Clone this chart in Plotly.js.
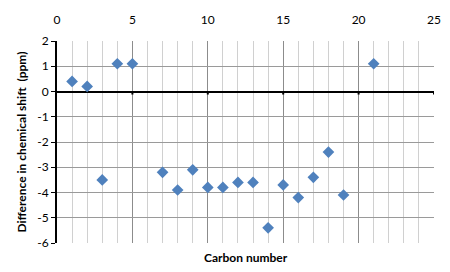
<!DOCTYPE html>
<html>
<head>
<meta charset="utf-8">
<script src="https://cdn.plot.ly/plotly-3.0.1.min.js"></script>
<style>html,body{margin:0;padding:0;background:#fff;}#chart{width:450px;height:272px;}</style>
</head>
<body>
<div id="chart"></div>
<script>
const carbonNumber = [1, 2, 3, 4, 5, 7, 8, 9, 10, 11, 12, 13, 14, 15, 16, 17, 18, 19, 21];
const shiftDiff = [0.4, 0.2, -3.5, 1.1, 1.1, -3.2, -3.9, -3.1, -3.8, -3.8, -3.6, -3.6, -5.4, -3.7, -4.2, -3.4, -2.4, -4.1, 1.1];
const xTicks = [0, 5, 10, 15, 20, 25];
const yTicks = [-6, -5, -4, -3, -2, -1, 0, 1, 2];

const font = 'Lato, "Open Sans", sans-serif';

// small tick marks on the x-axis line at y = 0 (drawn in data coordinates)
const tickShapes = xTicks.slice(1).map(v => ({
  type: 'line', xref: 'x', yref: 'y', x0: v, x1: v,
  y0: 0, y1: -0.12,
  line: {color: '#000', width: 2}
}));

const trace = {
  x: carbonNumber, y: shiftDiff, type: 'scatter', mode: 'markers',
  marker: {symbol: 'diamond', size: 9, color: '#4F81BD', line: {width: 0}},
  cliponaxis: false
};

const layout = {
  width: 450, height: 272,
  margin: {l: 57, r: 16, t: 41, b: 29},
  paper_bgcolor: '#fff', plot_bgcolor: '#fff',
  showlegend: false,
  font: {family: font, size: 11, color: '#000'},
  xaxis: {
    side: 'top', range: [0, 25], tickvals: xTicks, ticktext: xTicks.map(String),
    showline: false, ticks: '', zeroline: false,
    ticklabelstandoff: 14,
    showgrid: true, gridcolor: '#8c8c8c', gridwidth: 1,
    minor: {dtick: 1, showgrid: true, gridcolor: '#d0d0d0', gridwidth: 1, ticks: ''},
    tickfont: {family: font, size: 12, color: '#000'},
    title: {text: ''},
    automargin: false
  },
  yaxis: {
    range: [-6, 2], tickvals: yTicks, ticktext: yTicks.map(String),
    showline: true, linecolor: '#000', linewidth: 2,
    ticks: 'outside', ticklen: 4, tickcolor: '#000', tickwidth: 1,
    showgrid: true, gridcolor: '#9a9a9a', gridwidth: 1,
    zeroline: true, zerolinecolor: '#000', zerolinewidth: 2,
    tickfont: {family: font, size: 12, color: '#000'},
    title: {text: 'Difference in chemical shift  (ppm)', standoff: 8, font: {family: font, size: 12, color: '#000', weight: 'bold'}},
    automargin: false
  },
  shapes: tickShapes,
  annotations: [{
    text: '<b>Carbon number</b>', xref: 'paper', yref: 'paper', x: 0.5, y: -0.025,
    xanchor: 'center', yanchor: 'top', showarrow: false,
    font: {family: font, size: 12, color: '#000'}
  }]
};

Plotly.newPlot('chart', [trace], layout, {displayModeBar: false, staticPlot: true});
</script>
</body>
</html>
